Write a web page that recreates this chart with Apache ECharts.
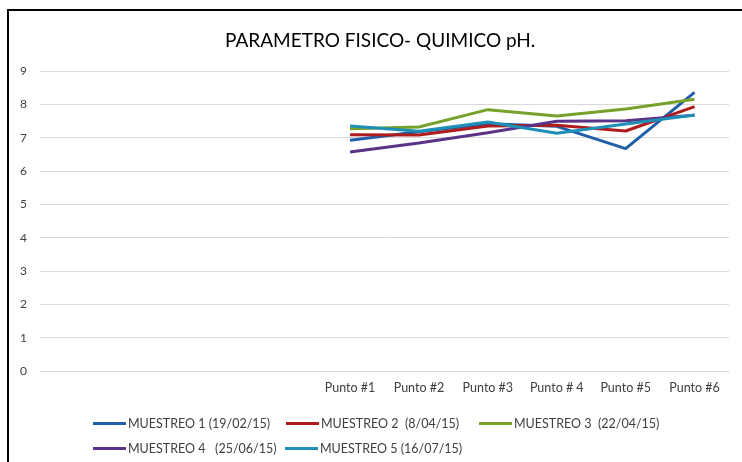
<!DOCTYPE html>
<html>
<head>
<meta charset="utf-8">
<script src="https://cdn.jsdelivr.net/npm/echarts@6/dist/echarts.min.js"></script>
<style>
html,body{margin:0;padding:0;background:#fff;}
#chart{width:742px;height:462px;}
</style>
</head>
<body>
<div id="chart"></div>
<script>
var emptyCategories = ['', ' ', '  ', '   '];
var pointLabels = ['Punto #1', 'Punto #2', 'Punto #3', 'Punto # 4', 'Punto #5', 'Punto #6'];
var seriesNames = ['MUESTREO 1 (19/02/15)', 'MUESTREO 2  (8/04/15)', 'MUESTREO 3  (22/04/15)', 'MUESTREO 4   (25/06/15)', 'MUESTREO 5 (16/07/15)'];
var muestreo1 = [6.92, 7.18, 7.42, 7.34, 6.67, 8.36];
var muestreo2 = [7.09, 7.08, 7.35, 7.37, 7.20, 7.93];
var muestreo3 = [7.27, 7.32, 7.84, 7.65, 7.86, 8.15];
var muestreo4 = [6.57, 6.84, 7.15, 7.49, 7.51, 7.67];
var muestreo5 = [7.35, 7.19, 7.47, 7.13, 7.41, 7.68];
var yTicks = [0, 1, 2, 3, 4, 5, 6, 7, 8, 9];
var colors = ['#1F5EA8', '#AE1C1C', '#77A12B', '#5A3386', '#1E8FB6'];

var categories = emptyCategories.concat(pointLabels);
function pad(arr){ return emptyCategories.map(function(){return null;}).concat(arr); }
var allData = [muestreo1, muestreo2, muestreo3, muestreo4, muestreo5];
var font = 'Lato, "Open Sans", sans-serif';

var legendPos = [[93, 417], [286, 417], [479, 417], [93, 442], [285, 442]];

var chart = echarts.init(document.getElementById('chart'), null, {renderer:'canvas'});
chart.setOption({
  animation: false,
  color: colors,
  title: {
    text: 'PARAMETRO FISICO- QUIMICO pH.',
    left: 220,
    top: 26,
    textStyle: {fontFamily: font, fontSize: 19, fontWeight: 'normal', color: '#000'}
  },
  graphic: [{
    type: 'rect',
    shape: {x: 8, y: 10, width: 800, height: 520},
    style: {fill: 'none', stroke: '#000', lineWidth: 2},
    silent: true,
    z: 100
  }],
  legend: seriesNames.map(function(n, i){
    return {
      data: [n],
      left: legendPos[i][0], top: legendPos[i][1],
      padding: 0,
      icon: 'rect', itemWidth: 33, itemHeight: 3,
      textStyle: {fontFamily: font, fontSize: 12.5, color: '#404040', padding: [0,0,0,-3]}
    };
  }),
  grid: {left: 40, right: 13, top: 71, bottom: 91, containLabel: false},
  xAxis: {
    type: 'category',
    data: categories,
    boundaryGap: true,
    axisLine: {show: true, lineStyle: {color: '#d9d9d9', width: 1}},
    axisTick: {show: false},
    axisLabel: {fontFamily: font, fontSize: 12.5, color: '#404040', margin: 10, interval: 0}
  },
  yAxis: {
    type: 'value',
    min: 0, max: 9, interval: 1,
    axisLine: {show: false},
    axisTick: {show: false},
    splitLine: {lineStyle: {color: '#d9d9d9', width: 1}},
    axisLabel: {fontFamily: font, fontSize: 12, color: '#404040', margin: 13,
      formatter: function(v){ return yTicks.indexOf(v) >= 0 ? String(v) : ''; }}
  },
  series: allData.map(function(arr, i){
    return {
      name: seriesNames[i],
      type: 'line',
      data: pad(arr),
      showSymbol: false,
      symbol: 'none',
      lineStyle: {width: 3, color: colors[i]},
      itemStyle: {color: colors[i]}
    };
  })
});
</script>
</body>
</html>
